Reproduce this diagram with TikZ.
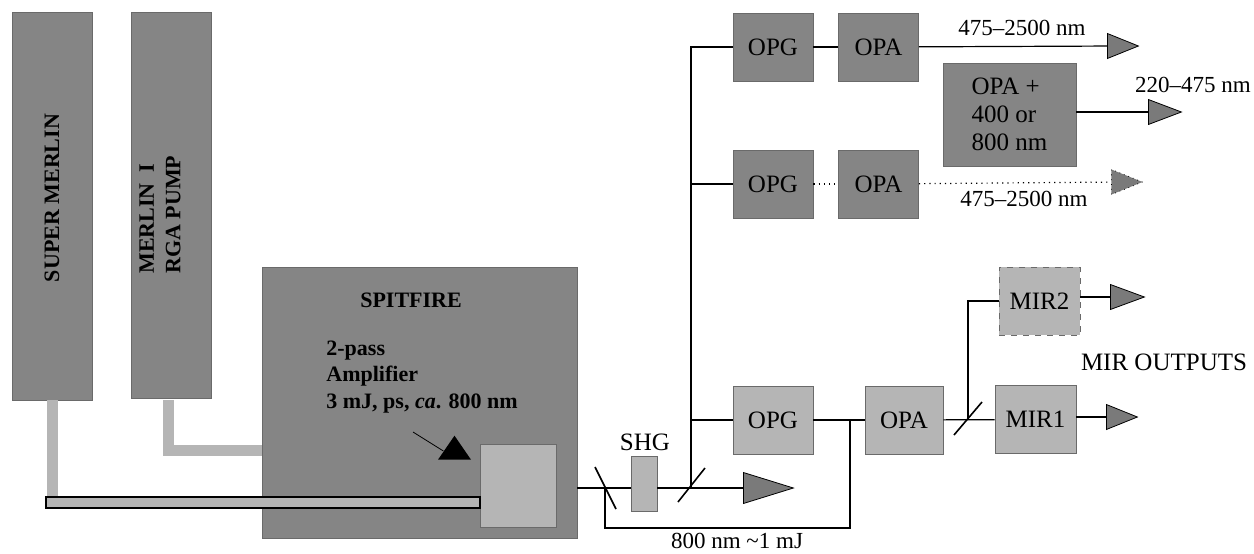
\documentclass[tikz,border=0pt]{standalone}
\usepackage{fontspec}
\setmainfont{Liberation Serif}
\usetikzlibrary{shapes.geometric}
\definecolor{boxdark}{HTML}{858585}
\definecolor{boxlight}{HTML}{B5B5B5}
\definecolor{boxline}{HTML}{6A6A6A}
\definecolor{tipgray}{HTML}{7A7A7A}
\newcommand{\boxfont}{\fontsize{12.5}{14}\selectfont}
\newcommand{\labelfont}{\fontsize{11.5}{13}\selectfont}
\tikzset{
  pump/.style={draw=boxline, fill=boxdark, minimum width=40pt, minimum height=194pt,
    inner sep=0pt},
  darkbox/.style={draw=boxline, fill=boxdark, minimum width=40pt, minimum height=34pt,
    inner sep=0pt, font=\boxfont},
  lightbox/.style={draw=boxline, fill=boxlight, minimum width=40pt, minimum height=34pt,
    inner sep=0pt, font=\boxfont},
  boldtext/.style={font=\bfseries\fontsize{11}{13.25}\selectfont, inner sep=0pt},
  beam/.style={line width=.6pt},
  vac/.style={line width=5.5pt, draw=boxlight},
  outtip/.style={isosceles triangle, isosceles triangle stretches, draw, fill=tipgray,
    inner sep=0pt, minimum height=15.5pt, minimum width=12.5pt, anchor=west},
  mirror/.style={line width=.8pt},
  label/.style={font=\labelfont, inner sep=1pt},
}

\begin{document}
\begin{tikzpicture}[x=0.5pt, y=-0.5pt]
\useasboundingbox (0,0) rectangle (1254,553);

% Pumps and amplifier
\node[pump] (smerlin) at (52,206) {};
\node[pump, minimum height=193pt] (merlin) at (171,205) {};
\node[boldtext, rotate=90] (smerlintext) at (52,198) {SUPER MERLIN};
\node[boldtext, rotate=90, anchor=west, align=left] (merlintext) at (160,274) {MERLIN\ \ I\\RGA PUMP};

\node[draw=boxline, fill=boxdark, minimum width=157.5pt, minimum height=135.5pt, inner sep=0pt] (spit) at (419.5,402.5) {};
\node[boldtext] (spittext) at (411,300) {SPITFIRE};
\node[boldtext, anchor=west, align=left] (amptext) at (326,377) {2-pass\\Amplifier\\3 mJ, ps, \textit{ca}. 800 nm};
\node[draw=boxline, fill=boxlight, minimum width=38pt, minimum height=41.5pt, inner sep=0pt] (sq) at (518,485.5) {};
\node[isosceles triangle, isosceles triangle stretches, shape border rotate=90, fill=black,
  inner sep=0pt, minimum height=12pt, minimum width=16.5pt] (pointer) at (454.5,451) {};
\coordinate (pointerend) at (413,432);
\draw[line width=.4pt] (pointerend) -- (pointer.west);

\draw[vac] (smerlin.south) -- (52,497);
\draw[vac] (168.5,400) |- (spit.west |- 0,450.5);
\node[draw, fill=boxlight, minimum width=217pt, minimum height=5.5pt, inner sep=0pt, line width=.6pt] (pipe) at (263,502.5) {};

% Beam after the amplifier
\coordinate (m1) at (605,488);
\coordinate (m2) at (691,488);
\coordinate (lo) at (605,528);
\coordinate (j1) at (850,420);
\node[lightbox, minimum width=13pt, minimum height=27.5pt] (shg) at (644,483.5) {};
\node[label, font=\boxfont] (shgtext) at (645,442) {SHG};
\node[outtip, minimum height=25pt, minimum width=15.5pt] (beamtip) at (743,488) {};

\draw[beam] (spit.east |- m1) -- (shg.west |- m1);
\draw[beam] (shg.east |- m1) -- (beamtip.west);
\draw[beam] (m1) -- (lo) -| (j1);
\draw[mirror] (m1) ++(-10,-21) -- ++(21,42);
\draw[mirror] (m2) ++(-13,14) -- ++(27,-34);
\node[label] (onemj) at (737,541) {800 nm {\char`\~}1 mJ};

% OPG / OPA lines
\node[darkbox] (opg1) at (773,47) {OPG};
\node[darkbox] (opa1) at (878.5,47) {OPA};
\node[darkbox] (opg2) at (773,184) {OPG};
\node[darkbox] (opa2) at (878.5,184) {OPA};
\node[darkbox, minimum width=66.5pt, minimum height=51.5pt, align=left] (opaplus) at (1009.5,114.5) {OPA +\\400 or\\800 nm};
\node[lightbox] (opg3) at (773,420) {OPG};
\node[lightbox, minimum width=39pt] (opa3) at (904,420) {OPA};

\node[outtip] (tip1) at (1107,46) {};
\node[outtip, minimum height=16.5pt] (tip2) at (1148,112) {};
\node[outtip, dotted] (tip3) at (1111,182) {};

\draw[beam] (m2) |- (opg1.west);
\draw[beam] (m2 |- opg2) -- (opg2.west);
\draw[beam] (m2 |- opg3) -- (opg3.west);
\draw[beam] (opg1) -- (opa1);
\draw[beam] (opa1) -- (tip1);
\draw[beam] (opaplus.east |- tip2) -- (tip2.west);
\draw[beam, dotted] (opg2) -- (opa2);
\draw[beam, dotted] (opa2) -- (tip3);
\draw[beam] (opg3) -- (opa3);

\node[label] (range1) at (1022,28) {475--2500 nm};
\node[label] (range2) at (1193,85) {220--475 nm};
\node[label] (range3) at (1024,199) {475--2500 nm};

% MIR outputs
\coordinate (m3) at (968,419);
\node[lightbox, minimum width=40.5pt] (mir1) at (1035.5,419.5) {MIR1};
\node[lightbox, minimum width=40.5pt, dashed] (mir2) at (1039.5,301) {MIR2};
\node[outtip] (tip4) at (1106,417) {};
\node[outtip, minimum height=17pt] (tip5) at (1110,297) {};

\draw[beam] (opa3) -- (mir1);
\draw[beam] (m3) |- (mir2.west);
\draw[mirror] (m3) ++(-14,16) -- ++(28,-33);
\draw[beam] (mir1.east |- tip4) -- (tip4.west);
\draw[beam] (mir2.east |- tip5) -- (tip5.west);
\node[label, font=\boxfont] (mirout) at (1164,362) {MIR OUTPUTS};

\end{tikzpicture}
\end{document}
